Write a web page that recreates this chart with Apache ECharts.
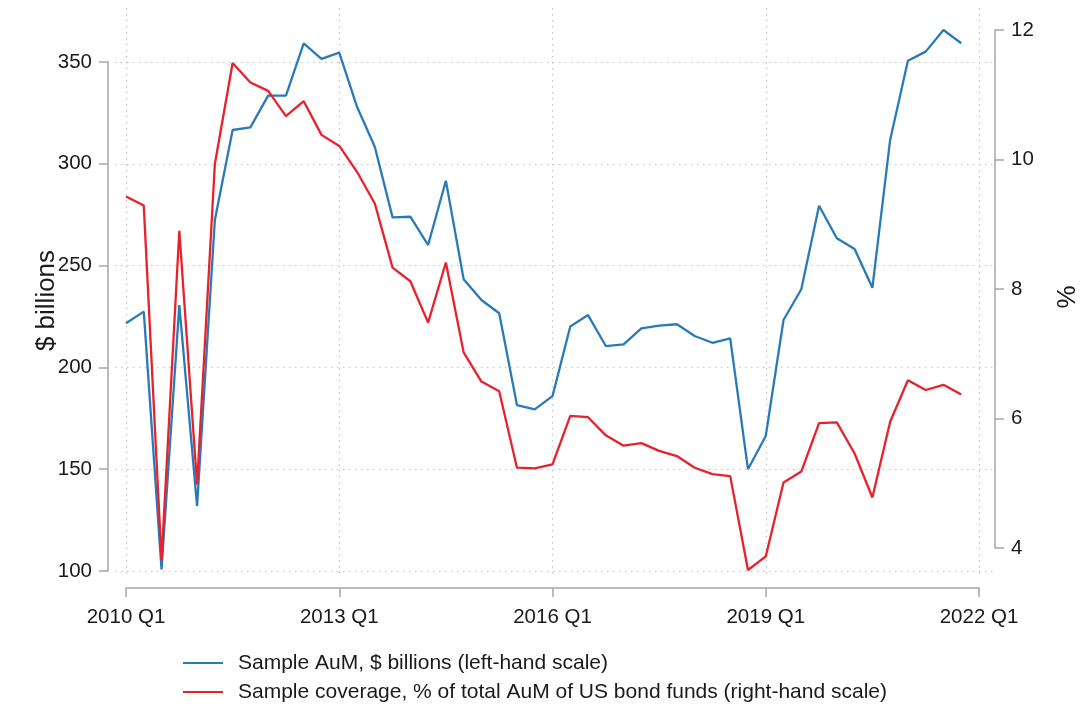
<!DOCTYPE html>
<html>
<head>
<meta charset="utf-8">
<script src="https://cdn.jsdelivr.net/npm/echarts@6/dist/echarts.min.js"></script>
<style>
html,body{margin:0;padding:0;background:#fff;}
#chart{width:1080px;height:709px;}
</style>
</head>
<body>
<div id="chart"></div>
<script>
// Quarters 2010 Q1 .. 2021 Q4 (index 0..47)
const startYear = 2010;
const quarterIndex = Array.from({length: 48}, (_, i) => i);
const xTickYears = [2010, 2013, 2016, 2019, 2022];

// Sample AuM, $ billions (left-hand scale)
const aum = [
  221.7, 227.4, 100.8, 230.6, 131.9, 272.4, 316.6, 317.9, 333.5, 333.5, 359.2, 351.5,
  354.6, 328.0, 308.4, 273.7, 274.0, 260.1, 291.7, 243.3, 233.1, 226.6, 181.5, 179.4,
  185.9, 220.1, 225.7, 210.5, 211.3, 219.2, 220.5, 221.2, 215.4, 212.1, 214.3, 150.0,
  166.3, 223.3, 238.4, 279.4, 263.4, 258.2, 239.1, 311.7, 350.6, 355.1, 365.7, 359.2
];
// Sample coverage, % of total AuM of US bond funds (right-hand scale)
const coverage = [
  9.43, 9.29, 3.81, 8.90, 4.98, 9.93, 11.49, 11.19, 11.06, 10.67, 10.90, 10.38,
  10.21, 9.81, 9.32, 8.33, 8.12, 7.48, 8.41, 7.02, 6.57, 6.42, 5.24, 5.23,
  5.29, 6.04, 6.02, 5.74, 5.58, 5.62, 5.50, 5.42, 5.24, 5.14, 5.11, 3.66,
  3.87, 5.01, 5.18, 5.93, 5.94, 5.46, 4.78, 5.95, 6.59, 6.44, 6.52, 6.37
];
const leftTicks = [100, 150, 200, 250, 300, 350];
const rightTicks = [4, 6, 8, 10, 12];

const names = {
  aum: 'Sample AuM, $ billions (left-hand scale)',
  cov: 'Sample coverage, % of total AuM of US bond funds (right-hand scale)'
};

const FONT = "'Liberation Sans', Arial, sans-serif";
const TXT = '#1a1a1a';
const AXIS = '#a6a6a6';
const GRID = { color: '#c4c4c4', width: 1.2, type: [1.5, 4.5] };
const BLUE = '#2a7ab9';
const RED = '#e8212b';

const chart = echarts.init(document.getElementById('chart'), null, {renderer: 'canvas'});

const axLine = { show: true, onZero: false, lineStyle: { color: AXIS, width: 1.5 } };
const axTick = { show: true, inside: false, length: 9, lineStyle: { color: AXIS, width: 1.5 } };
const G = { containLabel: false, outerBoundsMode: 'none' };

const option = {
  backgroundColor: '#fff',
  animation: false,
  textStyle: { fontFamily: FONT },
  grid: [
    // 0: vertical gridlines + bottom axis
    Object.assign({ left: 126, right: 101, top: 8, bottom: 134 }, G),
    // 1: horizontal gridlines + left axis
    Object.assign({ left: 115, right: 87, top: 62, bottom: 138 }, G),
    // 2: right axis + coverage series
    Object.assign({ left: 126, right: 101, top: 30, bottom: 161 }, G),
    // 3: AuM series
    Object.assign({ left: 126, right: 101, top: 62, bottom: 138 }, G)
  ],
  xAxis: [
    {
      gridIndex: 0, type: 'value', min: 0, max: 48, interval: 12,
      position: 'bottom', offset: 13,
      axisLine: axLine,
      axisTick: axTick,
      axisLabel: {
        color: TXT, fontSize: 20.5, fontFamily: FONT, margin: 19, lineHeight: 20,
        formatter: v => (startYear + v / 4) + ' Q1',
        showMinLabel: true, showMaxLabel: true
      },
      splitLine: { show: true, lineStyle: GRID }
    },
    { gridIndex: 1, type: 'value', min: 0, max: 1, show: false },
    { gridIndex: 2, type: 'value', min: 0, max: 48, show: false },
    { gridIndex: 3, type: 'value', min: 0, max: 48, show: false }
  ],
  yAxis: [
    { gridIndex: 0, type: 'value', min: 0, max: 1, show: false },
    {
      gridIndex: 1, type: 'value', min: 100, max: 350, interval: 50, position: 'left',
      offset: 7,
      name: '$ billions', nameLocation: 'middle', nameRotate: 90, nameGap: 48,
      nameMoveOverlap: false,
      nameTextStyle: { color: TXT, fontSize: 26, fontFamily: FONT, padding: [0, 0, 0, 32] },
      axisLine: axLine,
      axisTick: axTick,
      axisLabel: { color: TXT, fontSize: 20.5, fontFamily: FONT, margin: 16 },
      splitLine: { show: true, lineStyle: GRID }
    },
    {
      gridIndex: 2, type: 'value', min: 4, max: 12, interval: 2, position: 'right',
      offset: 16,
      name: '%', nameLocation: 'middle', nameRotate: 90, nameGap: 60,
      nameMoveOverlap: false,
      nameTextStyle: { color: TXT, fontSize: 26, fontFamily: FONT, padding: [0, 16, 0, 0] },
      axisLine: axLine,
      axisTick: axTick,
      axisLabel: { color: TXT, fontSize: 20.5, fontFamily: FONT, margin: 16 },
      splitLine: { show: false }
    },
    { gridIndex: 3, type: 'value', min: 100, max: 350, show: false }
  ],
  legend: {
    orient: 'vertical', left: 183, top: 651, padding: 0,
    itemWidth: 40, itemHeight: 2, itemGap: 5,
    icon: 'rect',
    textStyle: { color: TXT, fontSize: 21, fontFamily: FONT, lineHeight: 24, padding: [0, 0, 0, 10] },
    data: [names.aum, names.cov]
  },
  series: [
    {
      name: names.aum, type: 'line', xAxisIndex: 3, yAxisIndex: 3,
      data: quarterIndex.map(i => [i, aum[i]]),
      symbol: 'none', clip: false,
      lineStyle: { color: BLUE, width: 2.3 }, itemStyle: { color: BLUE }, z: 3
    },
    {
      name: names.cov, type: 'line', xAxisIndex: 2, yAxisIndex: 2,
      data: quarterIndex.map(i => [i, coverage[i]]),
      symbol: 'none', clip: false,
      lineStyle: { color: RED, width: 2.3 }, itemStyle: { color: RED }, z: 4
    }
  ]
};
chart.setOption(option);
</script>
</body>
</html>
